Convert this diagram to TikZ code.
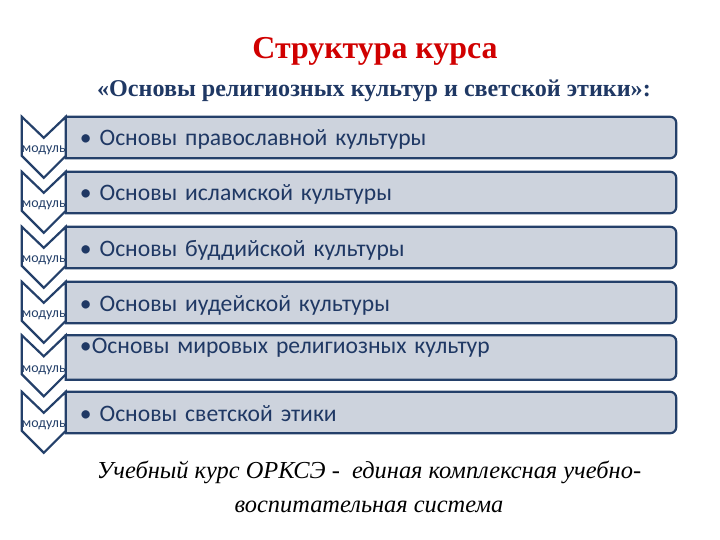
\documentclass[tikz,border=0pt]{standalone}
\usepackage{fontspec}
\setmainfont{Liberation Serif}
\newfontfamily\boxfont{Carlito}
\usetikzlibrary{backgrounds}
\definecolor{navy}{HTML}{24406A}
\definecolor{boxfill}{HTML}{CDD3DD}
\definecolor{titlered}{HTML}{D00000}
\definecolor{subblue}{HTML}{1F3864}

\begin{document}
\begin{tikzpicture}[x=1bp,y=-1bp,node distance=55bp]
\tikzstyle{blk}=[rectangle,align=left,minimum width=610bp,minimum height=41bp,text width=582bp,text height=20bp,text depth=3bp,inner xsep=14bp,inner ysep=0pt,text=subblue,font=\boxfont\fontsize{23.7}{27}\selectfont]
\tikzstyle{edge}=[draw=navy,line width=2.2bp,fill=boxfill]
\tikzstyle{chev}=[draw=navy,line width=2.2bp,fill=white,line join=miter]
\tikzstyle{modlbl}=[inner sep=0pt,text=navy,font=\boxfont\fontsize{14}{15}\selectfont]
\useasboundingbox (0,0) rectangle (720,540);

\node[font=\bfseries\fontsize{32}{36}\selectfont,text=titlered] (title) at (375,51) {Структура курса};
\node[font=\bfseries\fontsize{24.2}{28}\selectfont,text=subblue] (subtitle) at (374,91) {«Основы религиозных культур и светской этики»:};

\node[blk] (m1) at (371,137.5) {•\ Основы православной культуры};
\node[blk, below of=m1] (m2) {•\ Основы исламской культуры};
\node[blk, below of=m2] (m3) {•\ Основы буддийской культуры};
\node[blk, below of=m3] (m4) {•\ Основы иудейской культуры};
\node[blk, below of=m4, text height=18bp, text depth=26bp] (m5) {•Основы мировых религиозных культур};
\node[blk, below of=m5] (m6) {•\ Основы светской этики};

\begin{pgfonlayer}{background}
\foreach \m in {m1,m2,m3,m4,m5,m6}
  \draw[edge] (\m.south west) -- (\m.north west) [rounded corners=6bp] -- (\m.north east) -- (\m.south east) [sharp corners] -- cycle;
\end{pgfonlayer}

% chevrons with the module label
\foreach \m in {m1,m2,m3,m4,m5,m6}{
  \draw[chev] ([xshift=-44bp]\m.north west) -- ++(22,21) -- ++(22,-21) -- ++(0,39) -- ++(-22,22) -- ++(-22,-22) -- cycle;
  \node[modlbl] (lab-\m) at ([xshift=-22bp,yshift=-12.5bp]\m.west) {модуль};
}

\node[align=center,font=\itshape\fontsize{24.5}{34}\selectfont] (note) at (369,487) {Учебный курс ОРКСЭ -\ \ единая комплексная учебно-\\воспитательная система};
\end{tikzpicture}
\end{document}
